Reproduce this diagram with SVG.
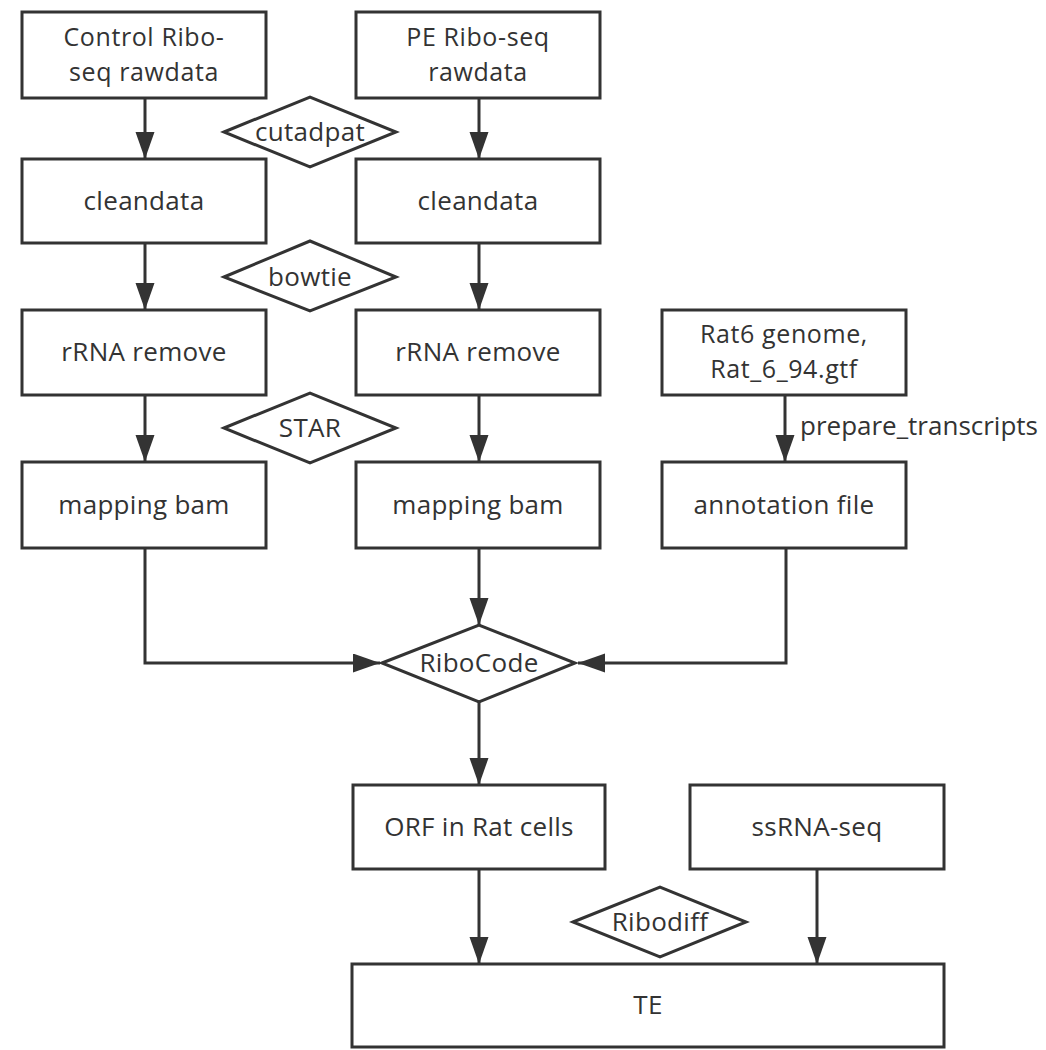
<svg xmlns="http://www.w3.org/2000/svg" width="1046" height="1050" viewBox="0 0 1046 1050">
<style>
.box{fill:#fff;stroke:#333;stroke-width:3}
.dia{fill:#fff;stroke:#333;stroke-width:3;stroke-linejoin:miter}
.t{font-family:"Open Sans","Noto Sans","Liberation Sans",sans-serif;font-size:26px;fill:#333;text-anchor:middle;letter-spacing:0.3px}
.t2{font-size:25px;letter-spacing:0.6px}
.c{fill:none;stroke:#333;stroke-width:3}
</style>
<defs>
<marker id="ah" markerUnits="userSpaceOnUse" markerWidth="28" markerHeight="20" refX="27" refY="9.5" orient="auto">
<path d="M0,0 L27,9.5 L0,19 z" fill="#333"/>
</marker>
</defs>
<rect width="1046" height="1050" fill="#fff"/>
<g id="connectors">
<line class="c" x1="145" y1="98" x2="145" y2="159" marker-end="url(#ah)"/>
<line class="c" x1="145" y1="243" x2="145" y2="310" marker-end="url(#ah)"/>
<line class="c" x1="145" y1="395" x2="145" y2="462" marker-end="url(#ah)"/>
<line class="c" x1="479" y1="98" x2="479" y2="159" marker-end="url(#ah)"/>
<line class="c" x1="479" y1="243" x2="479" y2="310" marker-end="url(#ah)"/>
<line class="c" x1="479" y1="395" x2="479" y2="462" marker-end="url(#ah)"/>
<line class="c" x1="785" y1="395" x2="785" y2="462" marker-end="url(#ah)"/>
<line class="c" x1="479" y1="548" x2="479" y2="625" marker-end="url(#ah)"/>
<polyline class="c" points="145,548 145,663 380,663" marker-end="url(#ah)"/>
<polyline class="c" points="786,548 786,663 578,663" marker-end="url(#ah)"/>
<line class="c" x1="479" y1="702" x2="479" y2="785" marker-end="url(#ah)"/>
<line class="c" x1="479" y1="869" x2="479" y2="964" marker-end="url(#ah)"/>
<line class="c" x1="817" y1="869" x2="817" y2="964" marker-end="url(#ah)"/>
<text class="t" x="800" y="435" style="text-anchor:start;letter-spacing:0">prepare_transcripts</text>
</g>
<g id="ctrl-raw"><rect class="box" x="22" y="12" width="244" height="86"/><text class="t t2" x="144" y="46">Control Ribo-</text><text class="t t2" x="144" y="81">seq rawdata</text></g>
<g id="pe-raw"><rect class="box" x="356" y="12" width="244" height="86"/><text class="t t2" x="478" y="46">PE Ribo-seq</text><text class="t t2" x="478" y="81">rawdata</text></g>
<g id="cutadpat"><polygon class="dia" points="224,132 310,97 396,132 310,167"/><text class="t" x="310" y="141">cutadpat</text></g>
<g id="ctrl-clean"><rect class="box" x="22" y="159" width="244" height="84"/><text class="t" x="144" y="210">cleandata</text></g>
<g id="pe-clean"><rect class="box" x="356" y="159" width="244" height="84"/><text class="t" x="478" y="210">cleandata</text></g>
<g id="bowtie"><polygon class="dia" points="224,277 310,241 396,277 310,311"/><text class="t" x="310" y="286">bowtie</text></g>
<g id="ctrl-rrna"><rect class="box" x="22" y="310" width="244" height="85"/><text class="t" x="144" y="361">rRNA remove</text></g>
<g id="pe-rrna"><rect class="box" x="356" y="310" width="244" height="85"/><text class="t" x="478" y="361">rRNA remove</text></g>
<g id="genome"><rect class="box" x="662" y="310" width="244" height="85"/><text class="t t2" x="784" y="343">Rat6 genome,</text><text class="t t2" x="784" y="378">Rat_6_94.gtf</text></g>
<g id="star"><polygon class="dia" points="224,428 310,393 396,428 310,463"/><text class="t" x="310" y="437">STAR</text></g>
<g id="ctrl-map"><rect class="box" x="22" y="462" width="244" height="86"/><text class="t" x="144" y="514">mapping bam</text></g>
<g id="pe-map"><rect class="box" x="356" y="462" width="244" height="86"/><text class="t" x="478" y="514">mapping bam</text></g>
<g id="annot"><rect class="box" x="662" y="462" width="244" height="86"/><text class="t" x="784" y="514">annotation file</text></g>
<g id="ribocode"><polygon class="dia" points="382,663 479,625 575,663 479,702"/><text class="t" x="479" y="672">RiboCode</text></g>
<g id="orf"><rect class="box" x="353" y="785" width="252" height="84"/><text class="t" x="479" y="836">ORF in Rat cells</text></g>
<g id="ssrna"><rect class="box" x="690" y="785" width="254" height="84"/><text class="t" x="817" y="836">ssRNA-seq</text></g>
<g id="ribodiff"><polygon class="dia" points="573,922 660,887 746,922 660,957"/><text class="t" x="660" y="931">Ribodiff</text></g>
<g id="te"><rect class="box" x="352" y="964" width="592" height="83"/><text class="t" x="648" y="1014">TE</text></g>
</svg>
